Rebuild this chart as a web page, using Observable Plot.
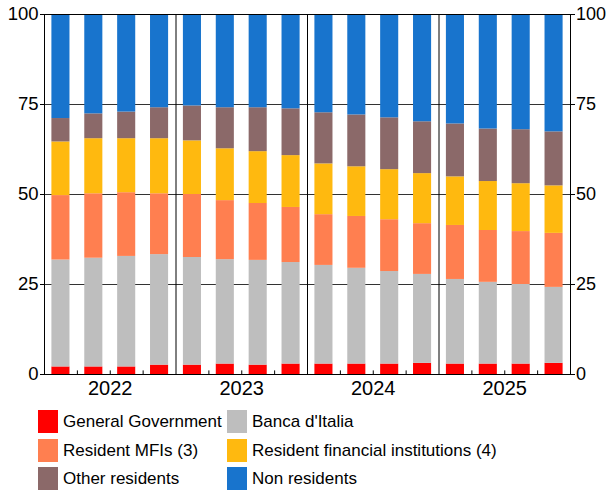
<!DOCTYPE html>
<html><head><meta charset="utf-8">
<script src="https://cdn.jsdelivr.net/npm/d3@7"></script>
<script src="https://cdn.jsdelivr.net/npm/@observablehq/plot@0.6"></script>
<style>
body{margin:0;background:#fff;font-family:"Liberation Sans",Arial,sans-serif;}
#wrap{position:relative;width:608px;height:494px;}
#legend{position:absolute;left:0;top:0;width:608px;height:494px;pointer-events:none;}
.item{position:absolute;display:flex;align-items:center;font-size:17px;color:#000;white-space:nowrap;}
.sw{width:20px;height:23px;margin-right:5px;flex:none;}
</style></head><body>
<div id="wrap"><div id="chart"></div><div id="legend"></div></div>
<script>
const years = ["2022","2023","2024","2025"];
const quarters = ["Q1","Q2","Q3","Q4"];
const seriesNames = ["General Government","Banca d'Italia","Resident MFIs (3)","Resident financial institutions (4)","Other residents","Non residents"];
const seriesColors = ["#FF0000","#BEBEBE","#FF7F50","#FFB90F","#8B6969","#1874CD"];
const generalGovernment = [2.1,2.1,2.1,2.6, 2.6,2.9,2.6,2.9, 2.9,2.9,2.9,3.1, 2.9,2.9,2.9,3.1];
const bancaDItalia      = [29.7,30.2,30.7,30.7, 29.9,29.0,29.1,28.2, 27.4,26.6,25.7,24.7, 23.5,22.7,22.1,21.1];
const residentMFIs      = [17.9,17.9,17.7,16.9, 17.5,16.4,15.8,15.3, 14.1,14.4,14.4,14.1, 15.0,14.4,14.7,15.0];
const residentFinInst   = [14.9,15.3,15.0,15.3, 14.9,14.4,14.4,14.4, 14.1,13.8,13.9,13.9, 13.5,13.6,13.3,13.2];
const otherResidents    = [6.5,6.9,7.4,8.6, 9.7,11.4,12.2,13.0, 14.2,14.4,14.4,14.4, 14.7,14.6,15.0,15.0];
const nonResidents      = [28.9,27.6,27.1,25.9, 25.4,25.9,25.9,26.2, 27.3,27.9,28.7,29.8, 30.4,31.8,32.0,32.6];
const yTicks = [0,25,50,75,100];

const seriesValues = [generalGovernment,bancaDItalia,residentMFIs,residentFinInst,otherResidents,nonResidents];
const periods = years.flatMap(y => quarters.map(q => y + q));
const rows = [];
periods.forEach((p, i) => {
  seriesNames.forEach((s, k) => {
    rows.push({period: p, x1: i, x2: i + 1, series: s, value: seriesValues[k][i]});
  });
});
const n = periods.length;
const nq = quarters.length;
const yearBounds = d3.range(nq, n, nq);
const quarterBounds = d3.range(1, n).filter(v => v % nq !== 0);
const yearCenters = years.map((y, j) => j * nq + nq / 2);

const chart = Plot.plot({
  width: 608,
  height: 400,
  marginTop: 14,
  marginBottom: 26,
  marginLeft: 44,
  marginRight: 38,
  style: {fontSize: "20px", fontFamily: "'Liberation Sans', Arial, sans-serif", color: "#000", background: "#fff"},
  x: {type: "linear", domain: [0, n], axis: null},
  y: {domain: [0, 100], axis: null},
  color: {domain: seriesNames, range: seriesColors},
  marks: [
    Plot.ruleY(yTicks.filter(v => v > 0 && v < 100), {stroke: "#333", strokeWidth: 1}),
    Plot.rectY(rows, {x1: "x1", x2: "x2", y: "value", fill: "series", order: seriesNames, insetLeft: 7.4, insetRight: 7.4}),
    Plot.ruleX(yearBounds, {stroke: "#000", strokeWidth: 1}),
    Plot.ruleX(quarterBounds, {y1: 0, y2: 1, stroke: "#000", strokeWidth: 1}),
    Plot.frame({stroke: "#000", strokeWidth: 1}),
    Plot.axisY({anchor: "left", label: null, ticks: yTicks, tickSize: 4, tickPadding: 2, fontSize: 18.5, tickFormat: d => String(d)}),
    Plot.axisY({anchor: "right", label: null, ticks: yTicks, tickSize: 4, tickPadding: 1.5, fontSize: 18, tickFormat: d => String(d)}),
    Plot.axisX({anchor: "bottom", label: null, ticks: yearCenters, tickSize: 0, tickPadding: 6, fontSize: 20, tickFormat: d => years[(d - nq / 2) / nq]})
  ]
});
document.getElementById("chart").appendChild(chart);

const legend = document.getElementById("legend");
const legendCols = [38, 227];
const legendRows = [410, 439, 467];
seriesNames.forEach((s, k) => {
  const item = document.createElement("div");
  item.className = "item";
  item.style.left = legendCols[k % 2] + "px";
  item.style.top = legendRows[Math.floor(k / 2)] + "px";
  const sw = document.createElement("div");
  sw.className = "sw";
  sw.style.background = seriesColors[k];
  const t = document.createElement("span");
  t.textContent = s;
  item.appendChild(sw);
  item.appendChild(t);
  legend.appendChild(item);
});
</script>
</body></html>
